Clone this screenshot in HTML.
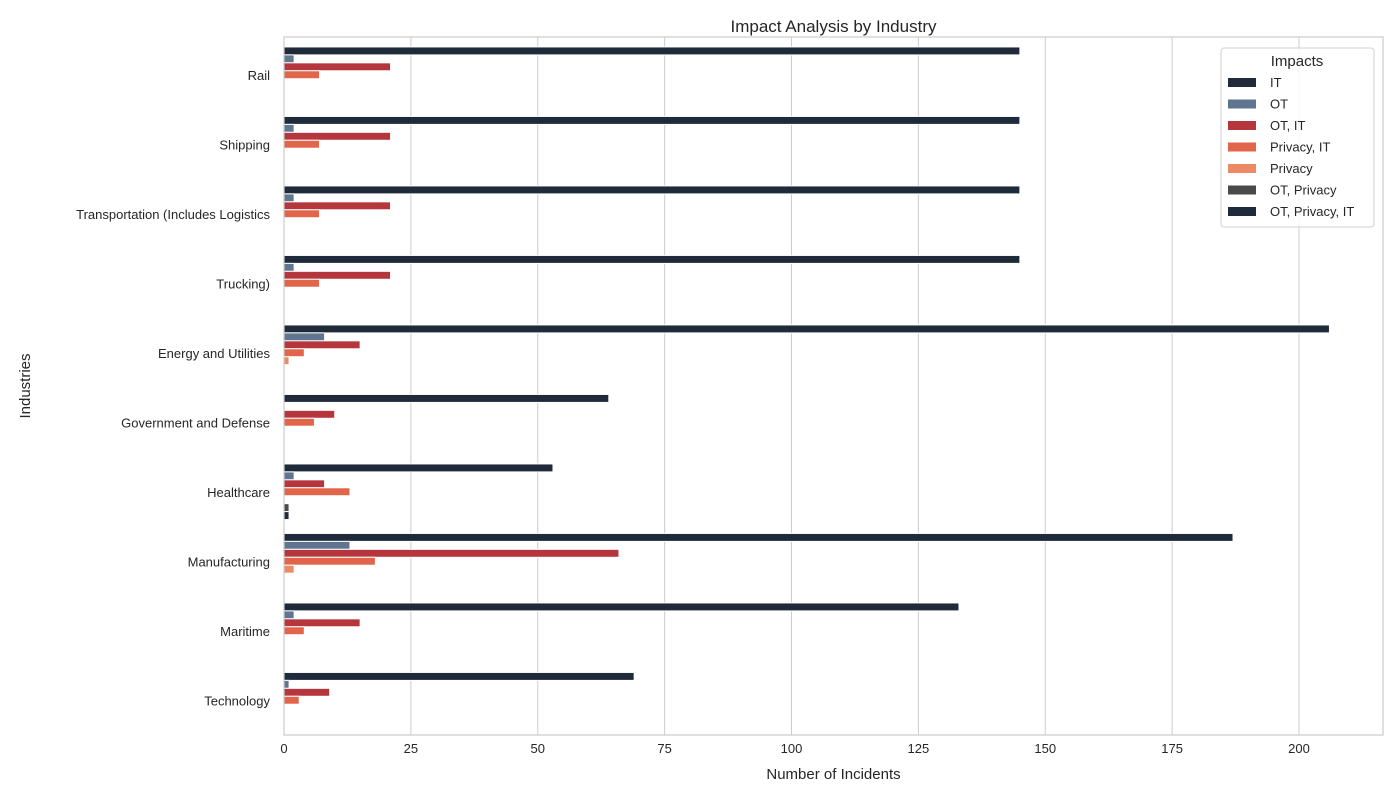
<!DOCTYPE html>
<html><head><meta charset="utf-8"><style>
body{margin:0;background:#fff;font-family:"Liberation Sans",sans-serif}
</style></head><body>
<svg id="chart" width="1400" height="800" xmlns="http://www.w3.org/2000/svg" font-family="Liberation Sans, sans-serif"></svg>
<script>
const categories=["Rail","Shipping","Transportation (Includes Logistics","Trucking)","Energy and Utilities","Government and Defense","Healthcare","Manufacturing","Maritime","Technology"];
const seriesNames=["IT","OT","OT, IT","Privacy, IT","Privacy","OT, Privacy","OT, Privacy, IT"];
const seriesColors=["#1f2b3b","#5f7691","#b5363d","#e0654a","#eb8a64","#4a4a4a","#1f2b3b"];
const valIT=[145,145,145,145,206,64,53,187,133,69];
const valOT=[2,2,2,2,8,0,2,13,2,1];
const valOTIT=[21,21,21,21,15,10,8,66,15,9];
const valPrivIT=[7,7,7,7,4,6,13,18,4,3];
const valPriv=[0,0,0,0,1,0,0,2,0,0];
const valOTPriv=[0,0,0,0,0,0,1,0,0,0];
const valOTPrivIT=[0,0,0,0,0,0,1,0,0,0];
const seriesValues=[valIT,valOT,valOTIT,valPrivIT,valPriv,valOTPriv,valOTPrivIT];
const xTicks=[0,25,50,75,100,125,150,175,200];
const NS="http://www.w3.org/2000/svg";
const svg=document.getElementById('chart');
const L=284,R=1383,T=37,B=735,BT=40,PX=5.075;
const xs=v=>L+v*PX;
const band=(B-BT)/categories.length;
const yc=i=>BT+band*(i+0.5);
const bw=band*0.8/seriesNames.length;
function mk(t,a){const e=document.createElementNS(NS,t);for(const k in a)e.setAttribute(k,a[k]);svg.appendChild(e);return e;}
xTicks.forEach(v=>{
 const g=mk('line',{x1:xs(v),x2:xs(v),y1:T,y2:B,stroke:'#cccccc','stroke-width':1});
 
 
 const t=mk('text',{x:xs(v),y:B+18,'text-anchor':'middle','font-size':13,fill:'#262626'});
 t.textContent=v;
 
 
});
seriesValues.forEach((arr,s)=>{
 arr.forEach((v,i)=>{
  if(v<=0)return;
  const y=yc(i)-band*0.4+s*bw;
  const r=mk('rect',{x:L,y:y,width:v*PX,height:bw,fill:seriesColors[s],stroke:'#fff','stroke-width':1});
  
  
 });
});
categories.forEach((c,i)=>{
 const t=mk('text',{x:L-14,y:yc(i)+5,'text-anchor':'end','font-size':13,fill:'#262626'});
 t.textContent=c;
 
 
});
const fr=mk('rect',{x:L,y:T,width:R-L,height:B-T,fill:'none',stroke:'#cccccc','stroke-width':1.2});


let t=mk('text',{x:(L+R)/2,y:32,'text-anchor':'middle','font-size':17,fill:'#262626'});t.textContent='Impact Analysis by Industry';


t=mk('text',{x:(L+R)/2,y:779,'text-anchor':'middle','font-size':15,fill:'#262626'});t.textContent='Number of Incidents';


t=mk('text',{x:30,y:(T+B)/2,'text-anchor':'middle','font-size':15,fill:'#262626',transform:'rotate(-90 30 '+((T+B)/2)+')'});t.textContent='Industries';


const lg=mk('rect',{x:1221,y:48,width:153,height:179,rx:3,fill:'#fff','fill-opacity':0.8,stroke:'#d0d0d0'});


t=mk('text',{x:1297,y:66,'text-anchor':'middle','font-size':15,fill:'#262626'});t.textContent='Impacts';


seriesNames.forEach((n,s)=>{
 const y=83+s*21.5;
 const r=mk('rect',{x:1228,y:y-5,width:28,height:9,fill:seriesColors[s]});
 
 
 const tx=mk('text',{x:1270,y:y+4,'font-size':13,fill:'#262626'});tx.textContent=n;
 
 
});
</script>
</body></html>
